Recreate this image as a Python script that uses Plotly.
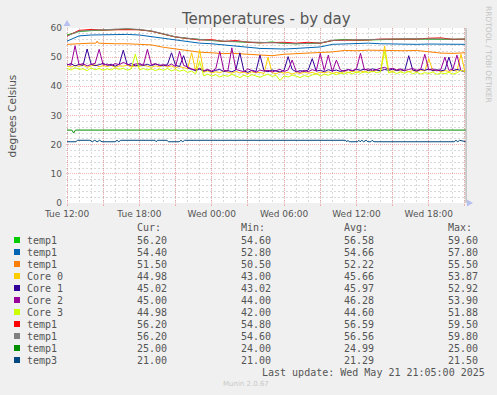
import pandas as pd
import plotly.graph_objects as go

# ---------------- data ----------------
START = "2025-05-20 12:00"

# hourly grid (hours after Tue 12:00) for the slow sensors
hours_hourly = list(range(34))
temp1_green = [57.6, 58.8, 59.1, 59.3, 59.5, 59.6, 59.4, 58.9, 57.9, 56.9, 56.4, 56.0, 55.6, 55.4, 55.3, 55.1, 54.9,
               55.2, 54.7, 54.6, 54.7, 54.8, 55.7, 56.1, 55.8, 55.9, 56.2, 56.2, 56.2, 56.2, 56.1, 56.2, 56.1, 56.2]
temp1_blue = [55.5, 57.3, 57.6, 57.7, 57.8, 57.8, 57.6, 57.0, 56.6, 56.0, 55.3, 54.8, 54.6, 54.2, 53.6, 53.2, 53.0,
              52.9, 52.8, 53.0, 53.2, 53.5, 54.4, 54.6, 54.8, 54.8, 54.6, 54.5, 54.5, 54.4, 54.5, 54.4, 54.5, 54.4]
temp1_red = [57.2, 59.2, 59.5, 59.3, 59.4, 59.5, 59.4, 58.9, 57.9, 56.9, 56.4, 55.9, 56.0, 55.4, 55.7, 55.1, 54.9,
             54.9, 55.1, 54.8, 55.1, 54.8, 55.7, 55.8, 55.8, 55.9, 56.2, 56.2, 56.2, 56.2, 56.5, 56.6, 56.1, 56.2]
temp1_gray = [57.3, 58.9, 59.2, 59.4, 59.6, 59.8, 59.5, 59.0, 58.0, 57.0, 56.5, 56.0, 55.7, 55.5, 55.4, 55.2, 55.0,
              55.0, 54.8, 54.6, 54.8, 54.9, 55.8, 55.9, 55.9, 56.0, 56.3, 56.3, 56.3, 56.3, 56.2, 56.3, 56.2, 56.2]

orange_hours = [0, 1, 2, 2.4, 2.5, 2.6, 3, 4, 5, 6, 7, 8, 9, 10, 11, 12, 13, 13.6, 13.7, 13.8,
                15, 16, 17, 18, 19, 20, 21, 22, 23, 24, 25, 26, 27, 28, 29, 30, 31, 32, 33]
temp1_orange = [54.4, 54.7, 54.8, 54.8, 55.5, 54.8, 54.7, 54.6, 54.6, 54.5, 54.2, 53.4, 52.8, 52.2, 51.7, 51.5,
                51.2, 51.3, 52.0, 51.3, 51.0, 50.7, 50.5, 51.0, 51.2, 51.5, 51.8, 51.8, 52.3, 52.2, 52.4, 52.3,
                52.4, 52.2, 52.3, 51.8, 51.4, 51.3, 51.5]

darkgreen_hours = [0, 0.4, 0.55, 0.7, 33.08]
temp1_darkgreen = [25.0, 25.0, 24.0, 25.0, 25.0]

temp3_hours = [0, 0.75, 0.85, 1.9, 2.1, 2.3, 2.5, 2.7, 2.9, 4.0, 4.15, 4.3, 4.45, 4.6, 7.3, 7.4, 7.5, 8.3, 8.4,
               9.3, 9.45, 9.6, 9.75, 23.1, 23.2, 23.3, 23.4, 24.1, 24.2, 24.3, 24.45, 24.6, 24.8, 24.95, 25.2,
               25.3, 25.45, 32.1, 32.25, 32.4, 32.55, 33.08]
temp3 = [21.0, 21.0, 21.5, 21.5, 21.0, 21.5, 21.0, 21.5, 21.0, 21.0, 21.5, 21.0, 21.5, 21.5, 21.5, 21.0, 21.5,
         21.5, 21.0, 21.0, 21.5, 21.0, 21.5, 21.5, 21.0, 21.5, 21.0, 21.0, 21.5, 21.0, 21.5, 21.0, 21.5, 21.0,
         21.0, 21.5, 21.0, 21.0, 21.5, 21.0, 21.5, 21.0]

# 20-minute samples for the CPU cores
core0 = [47.0, 46.6, 47.2, 46.8, 47.3, 46.5, 47.0, 47.4, 46.7, 47.1,
         46.8, 47.2, 46.5, 47.0, 46.9, 47.3, 46.6, 47.1, 46.8, 47.2,
         46.9, 46.5, 47.0, 46.7, 47.2, 46.6, 47.0, 46.4, 46.8, 46.5,
         46.0, 51.5, 45.2, 52.5, 44.8, 45.3, 44.6, 45.0, 44.7, 45.2,
         44.9, 44.5, 45.1, 44.6, 44.9, 44.3, 45.0, 44.6, 44.8, 44.4,
         50.0, 44.7, 44.3, 44.9, 44.5, 44.8, 44.2, 44.7, 44.4, 44.9,
         44.5, 44.8, 44.3, 44.9, 44.6, 45.0, 44.4, 44.8, 44.5, 45.1,
         44.7, 45.2, 44.8, 45.3, 44.9, 45.4, 45.0, 45.5, 45.2, 53.87,
         45.4, 45.1, 45.6, 45.2, 45.5, 45.0, 45.4, 45.1, 45.6, 45.3,
         49.5, 45.2, 45.6, 45.0, 45.4, 45.1, 45.5, 45.2, 51.0, 44.98]
core1 = [47.3, 47.8, 47.0, 47.5, 47.2, 52.8, 47.6, 47.1, 47.4, 47.9,
         47.2, 47.5, 46.9, 47.6, 52.4, 47.3, 47.8, 47.0, 47.4, 47.2,
         47.5, 47.1, 47.6, 47.3, 47.0, 47.5, 51.5, 47.2, 46.8, 50.5,
         46.3, 45.8, 45.4, 45.9, 45.2, 45.6, 45.0, 45.5, 45.8, 45.1,
         45.4, 45.0, 45.6, 51.5, 45.3, 44.8, 45.5, 45.1, 50.7, 45.4,
         45.0, 45.6, 45.2, 44.9, 45.5, 50.2, 45.8, 45.0, 45.4, 45.1,
         45.6, 49.5, 45.2, 45.5, 45.0, 45.7, 45.3, 45.6, 45.1, 45.4,
         45.7, 45.3, 45.8, 45.5, 45.9, 45.4, 46.0, 45.6, 45.3, 45.8,
         45.5, 45.9, 45.4, 45.7, 45.3, 50.5, 45.6, 45.2, 45.8, 45.5,
         45.9, 45.4, 45.7, 45.3, 45.6, 50.0, 45.4, 45.8, 45.3, 45.02]
core2 = [47.6, 47.2, 53.9, 47.4, 47.8, 47.0, 47.5, 47.9, 52.7, 47.3,
         47.6, 47.1, 47.8, 47.4, 48.2, 47.5, 47.0, 47.6, 47.9, 47.2,
         52.7, 47.4, 47.8, 47.1, 47.5, 47.0, 47.6, 46.8, 52.0, 47.2,
         46.5, 46.0, 45.6, 46.2, 45.4, 45.8, 45.2, 46.0, 52.0, 45.5,
         45.2, 53.2, 45.8, 45.4, 45.0, 46.0, 45.3, 44.8, 45.6, 45.2,
         45.5, 44.9, 45.4, 45.8, 45.1, 45.6, 49.0, 45.2, 44.8, 45.5,
         45.0, 45.7, 45.3, 51.3, 45.4, 50.7, 45.0, 49.0, 45.6, 45.2,
         45.8, 45.4, 46.0, 51.3, 45.6, 46.0, 45.3, 45.8, 46.2, 46.5,
         45.9, 46.2, 45.6, 46.0, 45.4, 45.8, 46.1, 45.5, 45.9, 51.0,
         45.6, 46.0, 45.3, 45.8, 50.0, 45.5, 45.9, 50.7, 45.4, 45.0]
core3 = [46.2, 45.6, 46.4, 45.8, 46.0, 45.4, 46.3, 45.7, 46.1, 45.5,
         46.0, 45.6, 46.3, 45.8, 46.2, 45.5, 46.0, 51.1, 45.7, 46.1,
         45.6, 46.0, 45.4, 45.9, 45.5, 46.1, 45.3, 45.8, 45.2, 45.6,
         44.8, 45.2, 44.3, 48.5, 43.6, 44.2, 43.5, 44.0, 43.2, 43.8,
         43.4, 44.1, 43.6, 43.0, 43.8, 43.3, 44.0, 43.5, 43.1, 43.7,
         44.2, 43.4, 43.8, 42.0, 43.6, 43.2, 43.9, 43.5, 43.0, 43.7,
         43.3, 43.9, 44.3, 43.6, 44.1, 43.8, 44.5, 44.0, 44.6, 44.2,
         44.8, 44.3, 44.9, 44.5, 45.0, 44.6, 45.2, 44.7, 45.0, 51.88,
         44.6, 45.0, 44.4, 44.9, 44.5, 45.1, 44.3, 44.8, 44.2, 44.7,
         44.4, 44.9, 44.1, 44.6, 44.3, 44.8, 44.2, 44.6, 45.5, 44.98]

# legend table
legend_names = ["temp1", "temp1", "temp1", "Core 0", "Core 1", "Core 2", "Core 3", "temp1", "temp1", "temp1", "temp3"]
legend_colors = ["#00CC00", "#0066B3", "#FF8000", "#FFCC00", "#330099", "#990099", "#CCFF00",
                 "#FF0000", "#808080", "#008F00", "#00487D"]
cur_vals = [56.20, 54.40, 51.50, 44.98, 45.02, 45.00, 44.98, 56.20, 56.20, 25.00, 21.00]
min_vals = [54.60, 52.80, 50.50, 43.00, 43.02, 44.00, 42.00, 54.80, 54.60, 24.00, 21.00]
avg_vals = [56.58, 54.66, 52.22, 45.66, 45.97, 46.28, 44.60, 56.59, 56.56, 24.99, 21.29]
max_vals = [59.60, 57.80, 55.50, 53.87, 52.92, 53.90, 51.88, 59.50, 59.80, 25.00, 21.50]

x_tick_labels = ["Tue 12:00", "", "Tue 18:00", "", "Wed 00:00", "", "Wed 06:00", "",
                 "Wed 12:00", "", "Wed 18:00", ""]

# ---------------- helpers ----------------
base = pd.Timestamp(START)


def to_times(hours):
    return [base + pd.Timedelta(hours=h) for h in hours]


t_hourly = to_times(hours_hourly)
t_core = list(pd.date_range(START, periods=len(core0), freq="20min"))
tick_vals = list(pd.date_range(START, periods=len(x_tick_labels), freq="3h"))

series = [
    (t_hourly, temp1_green, legend_colors[0]),
    (t_hourly, temp1_blue, legend_colors[1]),
    (to_times(orange_hours), temp1_orange, legend_colors[2]),
    (t_core, core0, legend_colors[3]),
    (t_core, core1, legend_colors[4]),
    (t_core, core2, legend_colors[5]),
    (t_core, core3, legend_colors[6]),
    (t_hourly, temp1_red, legend_colors[7]),
    (t_hourly, temp1_gray, legend_colors[8]),
    (to_times(darkgreen_hours), temp1_darkgreen, legend_colors[9]),
    (to_times(temp3_hours), temp3, legend_colors[10]),
]

fig = go.Figure()
for xs, ys, col in series:
    fig.add_trace(go.Scatter(x=xs, y=ys, mode="lines", line=dict(color=col, width=1),
                             showlegend=False, hoverinfo="skip"))

# plot area in pixels: x 66..466, y 28..203
PL, PR, PT, PB = 66, 466, 28, 203


def px(x):
    return (x - PL) / (PR - PL)


def py(y):
    return (PB - y) / (PB - PT)


TXT = "#555555"
MONO = "DejaVu Sans Mono"
ann = []
shapes = []

ann.append(dict(text="Temperatures - by day", x=0.5, y=py(19), xref="paper", yref="paper",
                showarrow=False, font=dict(family="DejaVu Sans", size=15, color=TXT),
                xanchor="center", yanchor="middle"))
ann.append(dict(text="degrees Celsius", x=px(11), y=0.5, xref="paper", yref="paper", textangle=-90,
                showarrow=False, font=dict(family="DejaVu Sans", size=10.5, color=TXT),
                xanchor="center", yanchor="middle"))
ann.append(dict(text="RRDTOOL / TOBI OETIKER", x=px(489), y=py(54), xref="paper", yref="paper", textangle=90,
                showarrow=False, font=dict(family="DejaVu Sans", size=7.5, color="#C4C4C4"),
                xanchor="center", yanchor="middle"))
ann.append(dict(text="Munin 2.0.67", x=px(246), y=py(384), xref="paper", yref="paper",
                showarrow=False, font=dict(family="DejaVu Sans", size=7, color="#C8C8C8"),
                xanchor="center", yanchor="middle"))

col_x = [136, 240, 343, 447]
for cx, hdr in zip(col_x, ["Cur:", "Min:", "Avg:", "Max:"]):
    ann.append(dict(text=hdr, x=px(cx), y=py(227), xref="paper", yref="paper", showarrow=False,
                    font=dict(family=MONO, size=10, color=TXT), xanchor="left", yanchor="middle", borderpad=0))

for i, name in enumerate(legend_names):
    ry = 240 + 12 * i
    shapes.append(dict(type="rect", xref="paper", yref="paper", x0=px(14), x1=px(20),
                       y0=py(ry + 3), y1=py(ry - 3), fillcolor=legend_colors[i], line=dict(width=0)))
    ann.append(dict(text=name, x=px(26), y=py(ry), xref="paper", yref="paper", showarrow=False,
                    font=dict(family=MONO, size=10, color=TXT), xanchor="left", yanchor="middle", borderpad=0))
    for cx, vals in zip(col_x, [cur_vals, min_vals, avg_vals, max_vals]):
        ann.append(dict(text=f"{vals[i]:.2f}", x=px(cx), y=py(ry), xref="paper", yref="paper",
                        showarrow=False, font=dict(family=MONO, size=10, color=TXT),
                        xanchor="left", yanchor="middle", borderpad=0))

ann.append(dict(text="Last update: Wed May 21 21:05:00 2025", x=px(261), y=py(372), xref="paper", yref="paper",
                showarrow=False, font=dict(family=MONO, size=10, color=TXT),
                xanchor="left", yanchor="middle", borderpad=0))

# right frame line and axis arrows
shapes.append(dict(type="line", xref="paper", yref="paper", x0=1, x1=1, y0=0, y1=1,
                   line=dict(color="#A0A0A0", width=1)))
ARROW = "#B8C0F0"
shapes.append(dict(type="path", xref="paper", yref="paper",
                   path=f"M {px(63.5)} {py(26)} L {px(70.5)} {py(26)} L {px(67)} {py(20)} Z",
                   fillcolor=ARROW, line=dict(width=0)))
shapes.append(dict(type="path", xref="paper", yref="paper",
                   path=f"M {px(467)} {py(199.5)} L {px(467)} {py(206.5)} L {px(473)} {py(203)} Z",
                   fillcolor=ARROW, line=dict(width=0)))

MAJOR = "rgba(235,120,120,0.55)"
MINOR = "rgba(170,170,170,0.45)"

fig.update_layout(
    width=497, height=395,
    margin=dict(l=PL, r=497 - PR, t=PT, b=395 - PB),
    paper_bgcolor="#F0F0F0", plot_bgcolor="#FFFFFF",
    font=dict(family="DejaVu Sans", size=9, color=TXT),
    showlegend=False,
    annotations=ann, shapes=shapes,
    xaxis=dict(type="date", range=["2025-05-20 11:55", "2025-05-21 21:05"],
               tickmode="array", tickvals=tick_vals, ticktext=x_tick_labels,
               showgrid=True, gridcolor=MAJOR, griddash="1px,1px", gridwidth=1,
               ticks="outside", ticklen=2, tickcolor=MAJOR,
               tickfont=dict(family="DejaVu Sans", size=9, color=TXT),
               minor=dict(tick0=START, dtick=3600000, showgrid=True, gridcolor=MINOR,
                          griddash="2px,2px", gridwidth=1),
               zeroline=False, showline=False, fixedrange=True),
    yaxis=dict(range=[0, 60], tickmode="linear", tick0=0, dtick=10,
               showgrid=True, gridcolor=MAJOR, griddash="1px,1px", gridwidth=1,
               tickfont=dict(family="DejaVu Sans", size=9, color=TXT),
               minor=dict(tick0=0, dtick=2, showgrid=True, gridcolor=MINOR,
                          griddash="2px,2px", gridwidth=1),
               zeroline=False, showline=False, fixedrange=True, ticklabelstandoff=3),
)

fig.write_html("out.html", config={"displayModeBar": False},
               post_script="document.body.style.margin='0px';document.body.style.background='#F0F0F0';")
